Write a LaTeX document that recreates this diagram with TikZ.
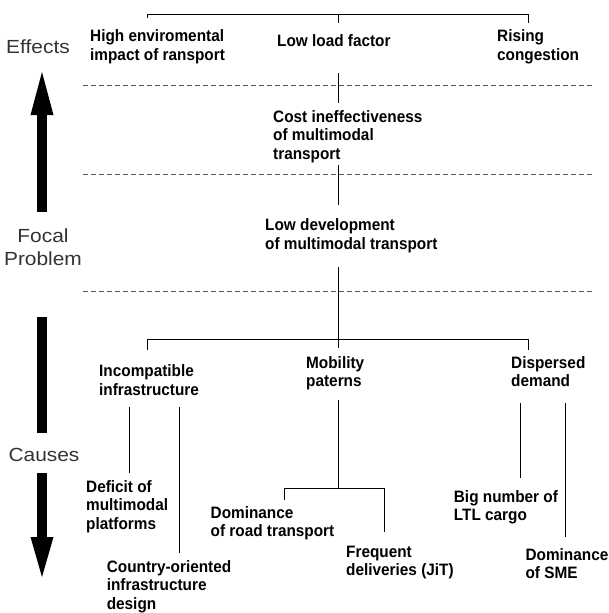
\documentclass[tikz,border=0pt]{standalone}
\usepackage{fontspec}
\setmainfont{Liberation Sans}
\newfontfamily\sidefont[FakeStretch=1.1]{Liberation Sans}
\newfontfamily\txtfont[FakeStretch=0.93]{Liberation Sans Bold}
\begin{document}
\begin{tikzpicture}[x=1pt,y=-1pt,
  txt/.style={anchor=north west, inner sep=0pt, align=left,
    font=\fontsize{16.5}{18.6}\selectfont\txtfont},
  side/.style={anchor=north, inner sep=0pt, align=center, text=black!80,
    font=\fontsize{19}{23}\selectfont\sidefont},
  conn/.style={line width=1pt},
  sep/.style={line width=0.9pt, black!65, dash pattern=on 5pt off 3pt},
  bigarrow/.style={fill=black, draw=none}]
\useasboundingbox (0,0) rectangle (608,613);

% side labels
\node[side] (effects) at (38,38) {\rule{0pt}{15pt}Effects};
\node[side] (focal) at (43,227) {\rule{0pt}{15pt}Focal\\Problem};
\node[side] (causes) at (44,446) {\rule{0pt}{15pt}Causes};

% big arrows
\fill[bigarrow] (37,212) rectangle (47,114);
\fill[bigarrow] (30.5,115) -- (53.5,115) -- (42,72) -- cycle;
\fill[bigarrow] (37,317) rectangle (47,433);
\fill[bigarrow] (37,473) rectangle (47,538);
\fill[bigarrow] (30.5,537) -- (53.5,537) -- (42,577) -- cycle;

% separators
\coordinate (s1l) at (83.4,85);  \coordinate (s1r) at (593,85);
\coordinate (s2l) at (83.4,174); \coordinate (s2r) at (593,174);
\coordinate (s3l) at (83.4,291); \coordinate (s3r) at (593,291);
\draw[sep] (s1l) -- (s1r);
\draw[sep] (s2l) -- (s2r);
\draw[sep] (s3l) -- (s3r);

% text nodes (top = first baseline - 13)
\node[txt] (env) at (90,28.7) {\rule{0pt}{13pt}High enviromental\\impact of ransport};
\node[txt] (load) at (277,33.7) {\rule{0pt}{13pt}Low load factor};
\node[txt] (cong) at (497,28.7) {\rule{0pt}{13pt}Rising\\congestion};
\node[txt] (cost) at (273,109) {\rule{0pt}{13pt}Cost ineffectiveness\\of multimodal\\transport};
\node[txt] (lowdev) at (265,217.7) {\rule{0pt}{13pt}Low development\\of multimodal transport};
\node[txt] (incomp) at (99,363.7) {\rule{0pt}{13pt}Incompatible\\infrastructure};
\node[txt] (mob) at (306,355) {\rule{0pt}{13pt}Mobility\\paterns};
\node[txt] (disp) at (511,355) {\rule{0pt}{13pt}Dispersed\\demand};
\node[txt] (deficit) at (86,479) {\rule{0pt}{13pt}Deficit of\\multimodal\\platforms};
\node[txt] (country) at (106.6,559) {\rule{0pt}{13pt}Country-oriented\\infrastructure\\design};
\node[txt] (domroad) at (210.5,505) {\rule{0pt}{13pt}Dominance\\of road transport};
\node[txt] (freq) at (346,544) {\rule{0pt}{13pt}Frequent\\deliveries (JiT)};
\node[txt] (big) at (453.7,489) {\rule{0pt}{13pt}Big number of\\LTL cargo};
\node[txt] (sme) at (525.4,547) {\rule{0pt}{13pt}Dominance\\of SME};

% connector coordinates
\coordinate (tbl) at (147,18);  \coordinate (tblc) at (147,14);
\coordinate (tbr) at (528,23);  \coordinate (tbrc) at (528,14);
\coordinate (tbm) at (338.5,14); \coordinate (tbmd) at (338.5,23);
\coordinate (v1a) at (338.5,73);  \coordinate (v1b) at (338.5,103);
\coordinate (v2a) at (338.5,165); \coordinate (v2b) at (338.5,205);
\coordinate (v3a) at (338.5,267); \coordinate (v3b) at (338.5,348);
\coordinate (bbl) at (147,350); \coordinate (bblc) at (147,339);
\coordinate (bbr) at (528,350); \coordinate (bbrc) at (528,339);
\coordinate (ia) at (129,407); \coordinate (ib) at (129,473);
\coordinate (ja) at (179,407); \coordinate (jb) at (179,553);
\coordinate (ma) at (338.5,400); \coordinate (mb) at (338.5,488);
\coordinate (ml) at (284,500); \coordinate (mlc) at (284,488);
\coordinate (mr) at (384,532); \coordinate (mrc) at (384,488);
\coordinate (da) at (520.7,403); \coordinate (db) at (520.7,478);
\coordinate (ea) at (565,403); \coordinate (eb) at (565,537);

% connectors
\draw[conn] (tbl) -- (tblc) -- (tbrc) -- (tbr);
\draw[conn] (tbm) -- (tbmd);
\draw[conn] (v1a) -- (v1b);
\draw[conn] (v2a) -- (v2b);
\draw[conn] (v3a) -- (v3b);
\draw[conn] (bbl) -- (bblc) -- (bbrc) -- (bbr);
\draw[conn] (ia) -- (ib);
\draw[conn] (ja) -- (jb);
\draw[conn] (ma) -- (mb);
\draw[conn] (ml) -- (mlc) -- (mrc) -- (mr);
\draw[conn] (da) -- (db);
\draw[conn] (ea) -- (eb);
\end{tikzpicture}
\end{document}
